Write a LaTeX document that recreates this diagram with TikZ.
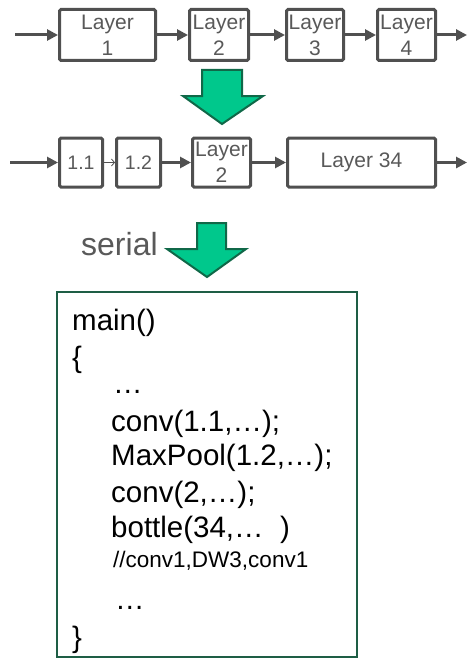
\documentclass[tikz,border=0pt]{standalone}
\usepackage{fontspec}
\setmainfont{Liberation Sans}
\usetikzlibrary{arrows.meta}
\definecolor{boxgray}{RGB}{80,80,80}
\definecolor{txtgray}{RGB}{89,89,89}
\definecolor{arrfill}{RGB}{0,200,140}
\definecolor{arrline}{RGB}{16,104,72}
\definecolor{codegreen}{RGB}{30,94,69}
\tikzset{
  layerbox/.style={draw=boxgray, line width=3pt, rounded corners=1.5pt, fill=white,
    inner sep=0pt, align=center, text=txtgray, font=\fontsize{21}{26}\selectfont},
  smallbox/.style={layerbox, font=\fontsize{19.5}{26}\selectfont},
  conn/.style={draw=boxgray, line width=3pt, -{Triangle[length=11pt,width=11pt]}},
  thinconn/.style={draw=boxgray, line width=0.8pt, -{Straight Barb[length=3pt,width=7pt]}},
  greenarrow/.style={fill=arrfill, draw=arrline, line width=2pt, line join=miter},
  codeline/.style={anchor=base west, inner sep=0pt, text=black, font=\fontsize{29.5}{34}\selectfont},
  commentline/.style={anchor=base west, inner sep=0pt, text=black, font=\fontsize{22.5}{26}\selectfont},
}
\begin{document}
\begin{tikzpicture}[x=1pt, y=-1pt]
\useasboundingbox (0,0) rectangle (468,661);
\fill[white] (0,0) rectangle (468,661);

% Row 1
\node[layerbox, minimum width=96pt, minimum height=51pt] (l1) at (107.5,35) {Layer\\1};
\node[layerbox, minimum width=59pt, minimum height=51pt] (l2) at (219,35) {Layer\\2};
\node[layerbox, minimum width=57pt, minimum height=51pt] (l3) at (315,35) {Layer\\3};
\node[layerbox, minimum width=58pt, minimum height=51pt] (l4) at (406.5,35) {Layer\\4};
\coordinate (in1) at (15,35);
\coordinate (out1) at (467,35);
\draw[conn] (in1) -- (l1);
\draw[conn] (l1) -- (l2);
\draw[conn] (l2) -- (l3);
\draw[conn] (l3) -- (l4);
\draw[conn] (l4) -- (out1);

% Green arrow 1
\draw[greenarrow] (202,70) -- (242,70) -- (242,96) -- (263,96) -- (222,124) -- (183,96) -- (202,96) -- cycle;

% Row 2
\node[smallbox, minimum width=43pt, minimum height=49pt] (m11) at (81,162.5) {1.1};
\node[smallbox, minimum width=44pt, minimum height=49pt] (m12) at (138.5,162.5) {1.2};
\node[layerbox, minimum width=58pt, minimum height=49pt] (m2) at (221.5,162.5) {Layer\\2};
\node[layerbox, minimum width=148pt, minimum height=49pt] (m34) at (361.5,162.5) {Layer 34};
\coordinate (in2) at (10,162.5);
\coordinate (out2) at (467,162.5);
\draw[conn] (in2) -- (m11);
\draw[thinconn] (m11) -- (m12);
\draw[conn] (m12) -- (m2);
\draw[conn] (m2) -- (m34);
\draw[conn] (m34) -- (out2);

% serial + green arrow 2
\node[anchor=base west, inner sep=0pt, text=txtgray, font=\fontsize{32}{36}\selectfont] (serial) at (81,255) {serial};
\draw[greenarrow] (197,223) -- (226,223) -- (226,249) -- (246,249) -- (207,277) -- (167,249) -- (197,249) -- cycle;

% Code box
\node[draw=codegreen, line width=2pt, minimum width=300pt, minimum height=365pt, inner sep=0pt] (codebox) at (207,474.5) {};
\node[codeline] (c1) at (72,330) {main()};
\node[codeline] (c2) at (72,367) {\{};
\node[codeline] (c3) at (113,393) {…};
\node[codeline] (c4) at (111,431) {conv(1.1,…);};
\node[codeline] (c5) at (111,465) {MaxPool(1.2,…);};
\node[codeline] (c6) at (111,502) {conv(2,…);};
\node[codeline] (c7) at (111,537) {bottle(34,…\ \ )};
\node[commentline] (c8) at (113,567) {//conv1,DW3,conv1};
\node[codeline] (c9) at (115,609) {…};
\node[codeline] (c10) at (72,647) {\}};
\end{tikzpicture}
\end{document}
